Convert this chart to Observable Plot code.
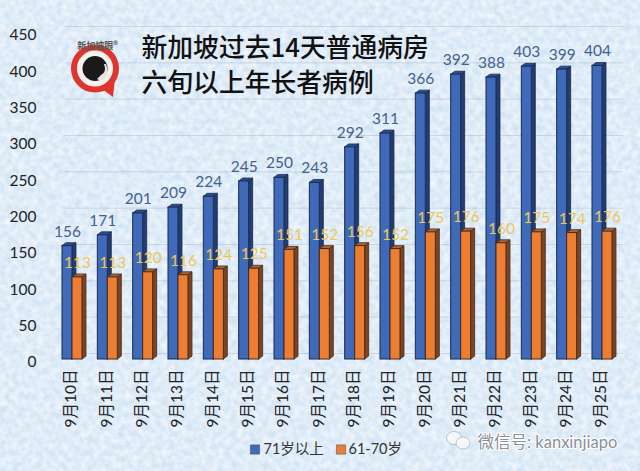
<!DOCTYPE html>
<html><head><meta charset="utf-8">
<script src="https://cdn.jsdelivr.net/npm/d3@7"></script>
<script src="https://cdn.jsdelivr.net/npm/@observablehq/plot@0.6"></script>
<style>
html,body{margin:0;padding:0;width:640px;height:471px;overflow:hidden;background-color:#d0e3f4;
background-image:url("data:image/svg+xml;utf8,<svg xmlns='http://www.w3.org/2000/svg' width='640' height='471'><filter id='n' x='0' y='0' width='100%' height='100%'><feTurbulence type='fractalNoise' baseFrequency='0.16' numOctaves='5' seed='7'/><feColorMatrix values='0 0 0 0 1  0 0 0 0 1  0 0 0 0 1  1.1 0 0 0 -0.22'/></filter><rect width='640' height='471' filter='url(%23n)'/></svg>");}
svg{display:block;background:none!important}
</style></head><body><script>
const days = ["9月10日","9月11日","9月12日","9月13日","9月14日","9月15日","9月16日","9月17日","9月18日","9月19日","9月20日","9月21日","9月22日","9月23日","9月24日","9月25日"];
const over71 = [156,171,201,209,224,245,250,243,292,311,366,392,388,403,399,404];
const age6170 = [113,113,120,116,124,125,151,152,156,152,175,176,160,175,174,176];
const seriesNames = ["71岁以上","61-70岁"];
const yTicks = [0,50,100,150,200,250,300,350,400,450];
const titleLines = ["新加坡过去14天普通病房","六旬以上年长者病例"];

const W = 0.283, DX = 0.113, DY = 4;
const FONT = "Lato, 'Noto Sans CJK SC', sans-serif";
const CJK = "'Noto Sans CJK SC', sans-serif";
const ML = 40; // frame-anchored marks are measured from the left margin

function block(values, x0, front, side, top, edge) {
  const sideRows = values.flatMap((v,i)=>[
    {id:i,x:i+x0+W,y1:0,y2:v},
    {id:i,x:i+x0+W+DX,y1:DY,y2:v+DY}]);
  const topRows = values.flatMap((v,i)=>[
    {id:i,y:v,x1:i+x0,x2:i+x0+W},
    {id:i,y:v+DY,x1:i+x0+DX,x2:i+x0+W+DX}]);
  return [
    Plot.areaY(sideRows,{x:"x",y1:"y1",y2:"y2",z:"id",fill:side,stroke:edge,strokeWidth:0.8}),
    Plot.areaX(topRows,{y:"y",x1:"x1",x2:"x2",z:"id",fill:top,stroke:edge,strokeWidth:0.8}),
    Plot.rect(values,{x1:(d,i)=>i+x0,x2:(d,i)=>i+x0+W,y1:()=>0,y2:d=>d,fill:front,stroke:edge,strokeWidth:1})
  ];
}
const labelCols = [["#44618f",over71,-W/2],["#efc757",age6170,W/2]];

const chart = Plot.plot({
  width:640,height:471,
  marginTop:0,marginRight:0,marginBottom:112,marginLeft:ML,
  style:{background:"none",fontFamily:FONT},
  x:{type:"linear",domain:[0,15],range:[72,602]},
  y:{domain:[0,450],range:[359,32]},
  marks:[
    Plot.ruleY(yTicks,{x1:-0.2,x2:15.6,dy:-6,stroke:"#9aa7b5",strokeOpacity:0.35,strokeWidth:1}),
    ...block(over71,-W,"#3f69b9","#243c6e","#2c4f8f","#1b2a52"),
    ...block(age6170,0,"#ed7d31","#7c4420","#b4642a","#3f2a25"),
    Plot.axisY({ticks:yTicks,tickSize:0,tickPadding:4,fontSize:15.5,fill:"#222",tickFormat:d=>d,label:null,dy:3}),
    Plot.axisX({ticks:d3.range(days.length),tickFormat:i=>days[i],tickRotate:-90,tickSize:0,tickPadding:10,fontSize:15.5,fontFamily:FONT,fill:"#222",label:null,dx:-1}),
    ...labelCols.map(([c,vals,off])=>Plot.text(vals,{x:(d,i)=>i+off,y:d=>d,text:d=>String(d),dy:-14.5,fontSize:15.5,fill:c})),
    ...titleLines.map((t,k)=>Plot.text([t],{frameAnchor:"top-left",dx:141-ML,dy:k?73:38,text:d=>d,textAnchor:"start",lineAnchor:"top",fontSize:25.8,fontWeight:500,fontFamily:CJK,fill:"#111"})),
    ...seriesNames.map((s,k)=>Plot.dot([s],{frameAnchor:"top-left",dx:(k?340.5:254.5)-ML,dy:449,symbol:"square",r:5.2,fill:k?"#ed7d31":"#3f69b9",stroke:"#555",strokeWidth:0.6})),
    ...seriesNames.map((s,k)=>Plot.text([s],{frameAnchor:"top-left",dx:(k?348:263)-ML,dy:449,text:d=>d,textAnchor:"start",lineAnchor:"middle",fontSize:14.5,fontFamily:FONT,fill:"#333"})),
    Plot.text(["微信号: kanxinjiapo"],{frameAnchor:"top-left",dx:477-ML,dy:442,text:d=>d,textAnchor:"start",lineAnchor:"middle",fontSize:16.5,fontFamily:FONT,fill:"#8a8f96",stroke:"#fff",strokeWidth:2}),
    Plot.dot([0],{frameAnchor:"top-left",dx:94.5-ML,dy:68,r:21,fill:"#f4f1ee",stroke:"#e0352f",strokeWidth:6}),
    Plot.dot([0],{frameAnchor:"top-left",dx:94.5-ML,dy:68,r:12.5,fill:"#1b1a1a"}),
    Plot.text(["新加坡眼®"],{frameAnchor:"top-left",dx:97-ML,dy:42,text:d=>d,textAnchor:"middle",fontSize:9,fontWeight:700,fontFamily:CJK,fill:"#555"})
  ]
});
const svg = d3.select(chart);
const deco = svg.append("g");
deco.append("path").attr("d","M102 89 L113 97 L115 78 Z").attr("fill","#e0352f");
deco.append("path").attr("d","M104 64 Q107 72 101 75 L97 79 Q102 82 105 78 Q109 72 106 64 Z").attr("fill","#e8e4e0");
deco.append("ellipse").attr("cx",454).attr("cy",438).attr("rx",7.5).attr("ry",6.5).attr("fill","#f4f7fa").attr("stroke","#9aa3ad").attr("stroke-width",0.6);
deco.append("ellipse").attr("cx",463).attr("cy",443).attr("rx",7).attr("ry",6).attr("fill","#f4f7fa").attr("stroke","#9aa3ad").attr("stroke-width",0.6);
document.body.appendChild(chart);
</script></body></html>
